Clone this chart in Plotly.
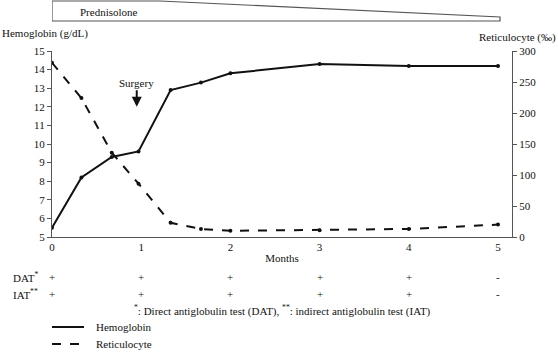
import plotly.graph_objects as go

# ---- data ----
hgb_months = [0, 0.33, 0.67, 0.97, 1.33, 1.67, 2, 3, 4, 5]
hgb_values = [5.5, 8.2, 9.3, 9.6, 12.9, 13.3, 13.8, 14.3, 14.2, 14.2]
ret_months = [0, 0.33, 0.67, 0.97, 1.33, 1.67, 2, 3, 4, 5]
ret_values = [281, 224, 136, 86, 23, 13, 10, 11, 13, 20]
test_months = [0, 1, 2, 3, 4, 5]
dat_results = ["+", "+", "+", "+", "+", "-"]
iat_results = ["+", "+", "+", "+", "+", "-"]
x_ticks = [0, 1, 2, 3, 4, 5]
hgb_ticks = list(range(5, 16))
ret_ticks = [0, 50, 100, 150, 200, 250, 300]
series_names = ["Hemoglobin", "Reticulocyte"]

FONT = "Liberation Serif, DejaVu Serif, Times New Roman, serif"
BLACK = "#111111"
AXIS = "#555555"

fig = go.Figure()
fig.add_trace(go.Scatter(x=hgb_months, y=hgb_values, mode="lines+markers", name=series_names[0],
                         line=dict(color=BLACK, width=2), marker=dict(size=4, color=BLACK),
                         showlegend=False, yaxis="y"))
fig.add_trace(go.Scatter(x=ret_months, y=ret_values, mode="lines+markers", name=series_names[1],
                         line=dict(color=BLACK, width=2, dash="dash"), marker=dict(size=4, color=BLACK),
                         showlegend=False, yaxis="y2"))

W, H = 558, 353
L, R, T, B = 52, 46, 51, 116
pw = W - L - R
ph = H - T - B
xmax = 5.157

def py(ypx):
    # pixel y (from top) to paper y
    return (H - B - ypx) / ph

def px(xpx):
    return (xpx - L) / pw

tf = dict(size=11)
annotations = []
# axis titles
annotations.append(dict(text="Hemoglobin (g/dL)", xref="paper", yref="paper", x=px(0), y=py(33),
                        xanchor="left", yanchor="middle", showarrow=False, font=tf))
annotations.append(dict(text="Reticulocyte (‰)", xref="paper", yref="paper", x=px(558), y=py(37),
                        xanchor="right", yanchor="middle", showarrow=False, font=tf))
# Prednisolone label
annotations.append(dict(text="Prednisolone", xref="paper", yref="paper", x=px(78), y=py(12),
                        xanchor="left", yanchor="middle", showarrow=False, font=tf))
# Surgery arrow
annotations.append(dict(text="Surgery", x=0.95, y=12.0, xref="x", yref="y", showarrow=True,
                        ax=0, ay=-24, arrowhead=2, arrowsize=1, arrowwidth=2, arrowcolor=BLACK,
                        font=tf))
# DAT / IAT rows
annotations.append(dict(text="DAT<sup>*</sup>", xref="paper", yref="paper", x=px(11), y=py(277),
                        xanchor="left", yanchor="middle", showarrow=False, font=dict(size=11)))
annotations.append(dict(text="IAT<sup>**</sup>", xref="paper", yref="paper", x=px(11), y=py(294),
                        xanchor="left", yanchor="middle", showarrow=False, font=dict(size=11)))
for m, d, i in zip(test_months, dat_results, iat_results):
    annotations.append(dict(text=d, x=m, xref="x", yref="paper", y=py(277), showarrow=False,
                            xanchor="center", yanchor="middle", font=dict(size=11)))
    annotations.append(dict(text=i, x=m, xref="x", yref="paper", y=py(294), showarrow=False,
                            xanchor="center", yanchor="middle", font=dict(size=11)))
annotations.append(dict(text="<sup>*</sup>: Direct antiglobulin test (DAT), <sup>**</sup>: indirect antiglobulin test (IAT)",
                        xref="paper", yref="paper", x=px(282), y=py(310), xanchor="center", yanchor="middle",
                        showarrow=False, font=dict(size=11)))

# Prednisolone tapering box
x_taper = (160 - L) / pw * xmax
x_end = (500 - L) / pw * xmax
path = (f"M 0,{py(1)} L {x_taper},{py(1)} L {x_end},{py(17)} "
        f"L {x_end},{py(21)} L 0,{py(21)} Z")
shapes = [dict(type="path", xref="x", yref="paper", path=path,
               line=dict(color=AXIS, width=1.2), fillcolor="white")]

# manual legend
for name, dash, ypix in zip(series_names, ["solid", "dash"], [327, 344]):
    shapes.append(dict(type="line", xref="paper", yref="paper", x0=px(52), x1=px(84),
                       y0=py(ypix), y1=py(ypix), line=dict(color=BLACK, width=2, dash=dash)))
    annotations.append(dict(text=name, xref="paper", yref="paper", x=px(94), y=py(ypix),
                            xanchor="left", yanchor="middle", showarrow=False, font=dict(size=11)))

fig.update_layout(
    width=W, height=H,
    margin=dict(l=L, r=R, t=T, b=B, pad=0),
    paper_bgcolor="white", plot_bgcolor="white",
    font=dict(family=FONT, size=11, color=BLACK),
    showlegend=False,
    xaxis=dict(range=[0, xmax], tickvals=x_ticks, ticks="", showline=True, linecolor=AXIS,
               linewidth=1.2, showgrid=False, zeroline=False, tickfont=dict(size=11),
               title=dict(text="Months", font=tf, standoff=2)),
    yaxis=dict(range=[5, 15], tickvals=hgb_ticks, ticks="outside", ticklen=4, tickcolor=AXIS,
               showline=True, linecolor=AXIS, linewidth=1.2, showgrid=False, zeroline=False,
               tickfont=dict(size=11)),
    yaxis2=dict(range=[0, 300], tickvals=ret_ticks, overlaying="y", side="right", ticks="outside",
                ticklen=4, tickcolor=AXIS, showline=True, linecolor=AXIS, linewidth=1.2,
                showgrid=False, zeroline=False, tickfont=dict(size=11)),
    annotations=annotations,
    shapes=shapes,
)

fig.write_html("out.html")
